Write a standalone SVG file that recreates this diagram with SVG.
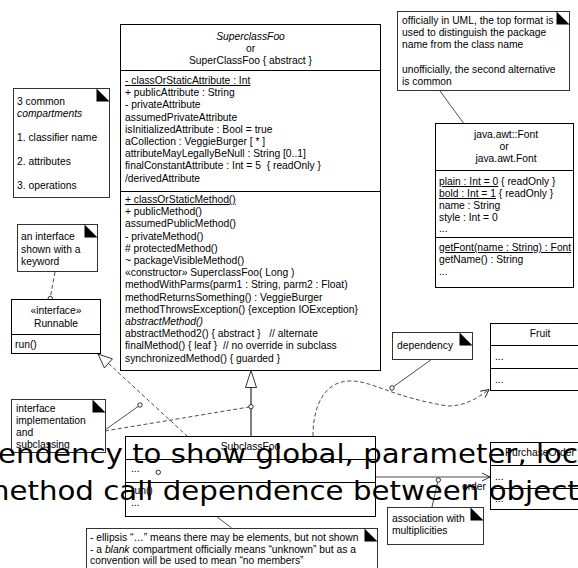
<svg xmlns="http://www.w3.org/2000/svg" width="578" height="568" viewBox="0 0 578 568">
<defs>
<style>
.t{font-family:"Liberation Sans",Arial,sans-serif;font-size:10.3px;fill:#000}
.c{text-anchor:middle}
.i{font-style:italic}
.u{text-decoration:underline}
.box{fill:#fff;stroke:#000;stroke-width:1}
.note{fill:#fff;stroke:#333;stroke-width:1}
.fold{fill:#000}
.ln{fill:none;stroke:#000;stroke-width:0.7}
.dash{stroke-dasharray:4,2.5}
.circ{fill:#fff;stroke:#000;stroke-width:0.8}
.big{font-family:"Comic Sans MS","DejaVu Sans",sans-serif;font-size:27px;fill:#000}
</style>
<marker id="open" markerWidth="10" markerHeight="10" refX="9" refY="5" orient="auto" markerUnits="userSpaceOnUse">
<path d="M1,1 L9,5 L1,9" fill="none" stroke="#000" stroke-width="0.8"/>
</marker>
</defs>
<rect width="578" height="568" fill="#fff"/>

<g id="connectors">
<line class="ln" x1="440" y1="91" x2="470" y2="132"/>
<circle class="circ" cx="471.5" cy="134" r="2.2"/>
<line class="ln dash" x1="55" y1="272" x2="50.5" y2="296.5"/>
<circle class="circ" cx="50.3" cy="298.5" r="2.2"/>
<line class="ln dash" x1="108.4" y1="363.4" x2="187" y2="436"/>
<polygon points="98,354 104.4,367.9 112.4,358.9" fill="#fff" stroke="#000" stroke-width="0.8"/>
<polygon points="251,370.5 245.5,387.5 256.5,387.5" fill="#fff" stroke="#000" stroke-width="0.8"/>
<line x1="251" y1="387.5" x2="251" y2="436" stroke="#000" stroke-width="1"/>
<line class="ln" x1="105" y1="430" x2="138.2" y2="406.4"/>
<circle class="circ" cx="140" cy="405" r="2.2"/>
<line class="ln dash" x1="105" y1="431" x2="249" y2="407"/>
<circle class="circ" cx="251" cy="406.7" r="2.2"/>
<path class="ln dash" d="M313,436 C313,405 325,381 350,381 C370,380 395,398 448,406 C465,406 478,398 489,389.5" marker-end="url(#open)"/>
<line class="ln" x1="431.7" y1="359.3" x2="393.6" y2="386.6"/>
<circle class="circ" cx="392" cy="388" r="2.2"/>
<line class="ln" x1="376" y1="477" x2="490" y2="477" marker-end="url(#open)"/>
<text class="t" x="486" y="490" text-anchor="end">order</text>
<line class="ln" x1="432" y1="507" x2="437.6" y2="482.2"/>
<circle class="circ" cx="438.3" cy="480" r="2.2"/>
<line class="ln" x1="160" y1="474" x2="231.7" y2="528"/>
</g>

<g id="superclass">
<rect class="box" x="120.5" y="24.5" width="260" height="346"/>
<line x1="120.5" y1="70.5" x2="380.5" y2="70.5" stroke="#000"/>
<line x1="120.5" y1="191.5" x2="380.5" y2="191.5" stroke="#000"/>
<text class="t c i" x="250.5" y="40">SuperclassFoo</text>
<text class="t c" x="250.5" y="52">or</text>
<text class="t c" x="250.5" y="64">SuperClassFoo { abstract }</text>
<text class="t u" x="125" y="84">- classOrStaticAttribute : Int</text>
<text class="t" x="125" y="96.2">+ publicAttribute : String</text>
<text class="t" x="125" y="108.4">- privateAttribute</text>
<text class="t" x="125" y="120.6">assumedPrivateAttribute</text>
<text class="t" x="125" y="132.8">isInitializedAttribute : Bool = true</text>
<text class="t" x="125" y="145">aCollection : VeggieBurger [ * ]</text>
<text class="t" x="125" y="157.2">attributeMayLegallyBeNull : String [0..1]</text>
<text class="t" x="125" y="169.4" xml:space="preserve">finalConstantAttribute : Int = 5  { readOnly }</text>
<text class="t" x="125" y="181.6">/derivedAttribute</text>
<text class="t u" x="125" y="203">+ classOrStaticMethod()</text>
<text class="t" x="125" y="215.2">+ publicMethod()</text>
<text class="t" x="125" y="227.4">assumedPublicMethod()</text>
<text class="t" x="125" y="239.6">- privateMethod()</text>
<text class="t" x="125" y="251.8"># protectedMethod()</text>
<text class="t" x="125" y="264">~ packageVisibleMethod()</text>
<text class="t" x="125" y="276.2">«constructor» SuperclassFoo( Long )</text>
<text class="t" x="125" y="288.4">methodWithParms(parm1 : String, parm2 : Float)</text>
<text class="t" x="125" y="300.6">methodReturnsSomething() : VeggieBurger</text>
<text class="t" x="125" y="312.8">methodThrowsException() {exception IOException}</text>
<text class="t i" x="125" y="325">abstractMethod()</text>
<text class="t" x="125" y="337.2" xml:space="preserve">abstractMethod2() { abstract }   // alternate</text>
<text class="t" x="125" y="349.4" xml:space="preserve">finalMethod() { leaf }  // no override in subclass</text>
<text class="t" x="125" y="361.6">synchronizedMethod() { guarded }</text>
</g>

<g id="note-uml">
<rect class="note" x="397.5" y="11.5" width="172" height="79"/>
<path class="fold" d="M556.5,11.5 L569.5,24.5 L556.5,24.5 Z"/>
<text class="t" x="402" y="24">officially in UML, the top format is</text>
<text class="t" x="402" y="36">used to distinguish the package</text>
<text class="t" x="402" y="48">name from the class name</text>
<text class="t" x="402" y="73">unofficially, the second alternative</text>
<text class="t" x="402" y="85">is common</text>
</g>

<g id="font">
<rect class="box" x="435.5" y="123.5" width="138" height="164"/>
<line x1="435.5" y1="170.5" x2="573.5" y2="170.5" stroke="#000"/>
<line x1="435.5" y1="237.5" x2="573.5" y2="237.5" stroke="#000"/>
<text class="t c" x="506" y="138">java.awt::Font</text>
<text class="t c" x="504" y="150">or</text>
<text class="t c" x="506" y="162">java.awt.Font</text>
<text class="t" x="439" y="185"><tspan class="u">plain : Int = 0</tspan> { readOnly }</text>
<text class="t" x="439" y="197"><tspan class="u">bold : Int = 1</tspan> { readOnly }</text>
<text class="t" x="439" y="209">name : String</text>
<text class="t" x="439" y="221">style : Int = 0</text>
<text class="t" x="439" y="232">...</text>
<text class="t u" x="439" y="251">getFont(name : String) : Font</text>
<text class="t" x="439" y="263">getName() : String</text>
<text class="t" x="439" y="275">...</text>
</g>

<g id="note-compartments">
<rect class="note" x="13.5" y="88.5" width="96" height="109"/>
<path class="fold" d="M96.5,88.5 L109.5,101.5 L96.5,101.5 Z"/>
<text class="t" x="17" y="105">3 common</text>
<text class="t i" x="17" y="117">compartments</text>
<text class="t" x="17" y="141">1. classifier name</text>
<text class="t" x="17" y="165">2. attributes</text>
<text class="t" x="17" y="189">3. operations</text>
</g>

<g id="note-keyword">
<rect class="note" x="17.5" y="224.5" width="80" height="47"/>
<path class="fold" d="M84.5,224.5 L97.5,237.5 L84.5,237.5 Z"/>
<text class="t" x="21" y="240">an interface</text>
<text class="t" x="21" y="252.5">shown with a</text>
<text class="t" x="21" y="265">keyword</text>
</g>

<g id="runnable">
<rect class="box" x="11.5" y="299.5" width="89" height="54"/>
<line x1="11.5" y1="334.5" x2="100.5" y2="334.5" stroke="#000"/>
<text class="t c" x="56" y="314">«interface»</text>
<text class="t c" x="56" y="327">Runnable</text>
<text class="t" x="15" y="348">run()</text>
</g>

<g id="note-impl">
<rect class="note" x="11.5" y="399.5" width="94" height="53"/>
<path class="fold" d="M92.5,399.5 L105.5,412.5 L92.5,412.5 Z"/>
<text class="t" x="16" y="412">interface</text>
<text class="t" x="16" y="424">implementation</text>
<text class="t" x="16" y="436">and</text>
<text class="t" x="16" y="448">subclassing</text>
</g>

<g id="subclass">
<rect class="box" x="125.5" y="436.5" width="250" height="80"/>
<line x1="125.5" y1="459.5" x2="375.5" y2="459.5" stroke="#000"/>
<line x1="125.5" y1="482.5" x2="375.5" y2="482.5" stroke="#000"/>
<text class="t c" x="250.5" y="450">SubclassFoo</text>
<text class="t" x="131" y="472">...</text>
<text class="t" x="131" y="494">run()</text>
<text class="t" x="131" y="506">...</text>
</g>
<circle class="circ" cx="158.3" cy="472.3" r="2.2"/>

<g id="note-dependency">
<rect class="note" x="392.5" y="332.5" width="80" height="27"/>
<path class="fold" d="M459.5,332.5 L472.5,345.5 L459.5,345.5 Z"/>
<text class="t" x="397" y="349">dependency</text>
</g>

<g id="fruit">
<rect class="box" x="490.5" y="323.5" width="100" height="67"/>
<line x1="490.5" y1="345.5" x2="590" y2="345.5" stroke="#000"/>
<line x1="490.5" y1="368.5" x2="590" y2="368.5" stroke="#000"/>
<text class="t c" x="540" y="337">Fruit</text>
<text class="t" x="495" y="360">...</text>
<text class="t" x="495" y="383">...</text>
</g>

<g id="purchaseorder">
<rect class="box" x="490.5" y="442.5" width="100" height="67"/>
<line x1="490.5" y1="465.5" x2="590" y2="465.5" stroke="#000"/>
<line x1="490.5" y1="488.5" x2="590" y2="488.5" stroke="#000"/>
<text class="t c" x="540" y="456">PurchaseOrder</text>
<text class="t" x="495" y="480">...</text>
<text class="t" x="495" y="502">...</text>
</g>

<g id="note-association">
<rect class="note" x="387.5" y="507.5" width="96" height="37"/>
<path class="fold" d="M470.5,507.5 L483.5,520.5 L470.5,520.5 Z"/>
<text class="t" x="392" y="522">association with</text>
<text class="t" x="392" y="534">multiplicities</text>
</g>

<g id="note-ellipsis">
<rect class="note" x="86.5" y="528.5" width="291" height="45"/>
<path class="fold" d="M364.5,528.5 L377.5,541.5 L364.5,541.5 Z"/>
<text class="t" x="90" y="541">- ellipsis “…” means there may be elements, but not shown</text>
<text class="t" x="90" y="552.5">- a <tspan class="i">blank</tspan> compartment officially means “unknown” but as a</text>
<text class="t" x="90" y="564">convention will be used to mean “no members”</text>
</g>

<g id="overlay">
<text class="big" x="-57" y="463" textLength="661" lengthAdjust="spacingAndGlyphs">dependency to show global, parameter, local</text>
<text class="big" x="-19" y="500" textLength="613" lengthAdjust="spacingAndGlyphs">method call dependence between objects</text>
</g>
</svg>
